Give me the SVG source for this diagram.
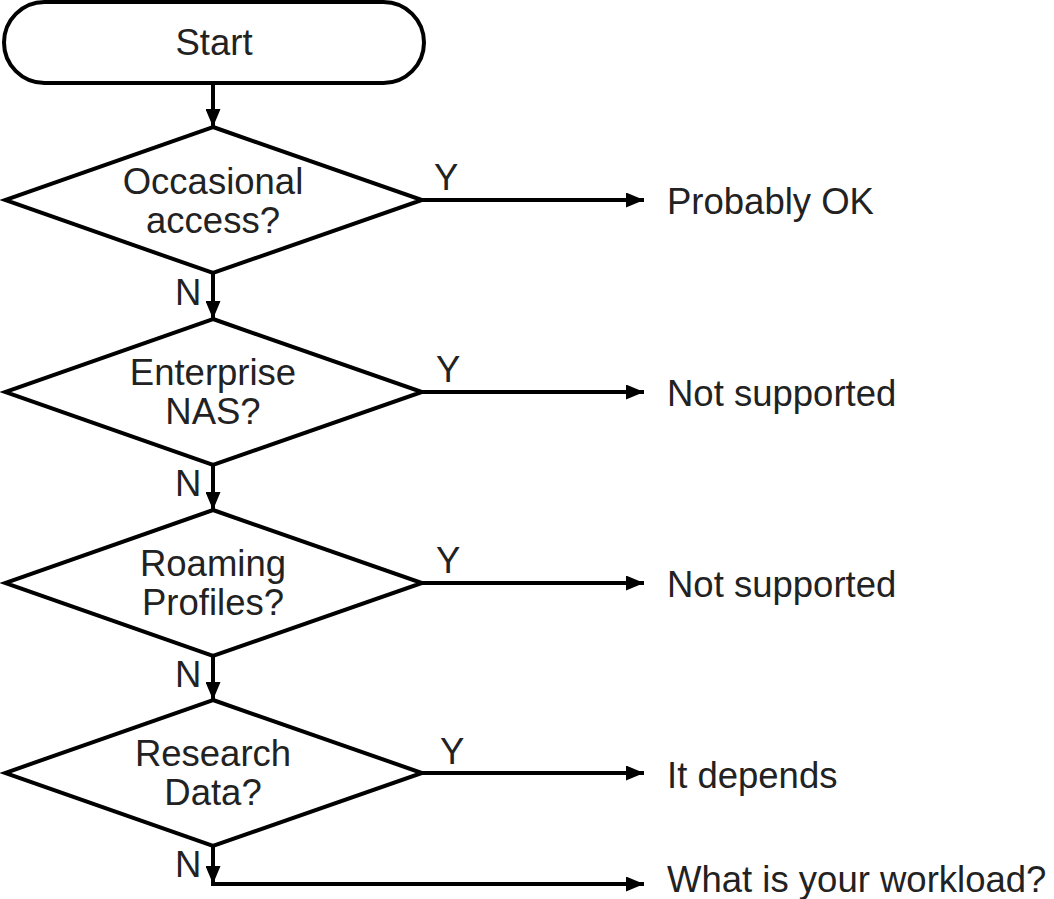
<svg xmlns="http://www.w3.org/2000/svg" width="1054" height="899" viewBox="0 0 1054 899">
<style>
.shape{fill:#fff;stroke:#000;stroke-width:4;stroke-linejoin:miter}
.t{font-family:"Liberation Sans","Noto Sans",Arial,sans-serif;font-size:36.5px;fill:#222}
.c{text-anchor:middle}
.edge{fill:none;stroke:#000;stroke-width:4}
</style>
<defs>
<marker id="ah" markerUnits="userSpaceOnUse" markerWidth="18" markerHeight="15" refX="18" refY="7.5" orient="auto">
<path d="M0,0 L18,7.5 L0,15 Z" fill="#000"/>
</marker>
</defs>
<rect width="1054" height="899" fill="#fff"/>
<g id="start">
<rect class="shape" x="4" y="2" width="420" height="81" rx="40.5" ry="40.5"/>
<text class="t c" x="214" y="55">Start</text>
</g>
<g id="d1">
<polygon class="shape" points="213,127 422,200 213,273 5,200"/>
<text class="t c" x="213" y="194">Occasional</text>
<text class="t c" x="213" y="233">access?</text>
</g>
<g id="d2">
<polygon class="shape" points="213,319 422,392 213,465 5,392"/>
<text class="t c" x="213" y="385">Enterprise</text>
<text class="t c" x="213" y="424">NAS?</text>
</g>
<g id="d3">
<polygon class="shape" points="213,510 422,583 213,656 5,583"/>
<text class="t c" x="213" y="576">Roaming</text>
<text class="t c" x="213" y="615">Profiles?</text>
</g>
<g id="d4">
<polygon class="shape" points="213,700 422,773 213,846 5,773"/>
<text class="t c" x="213" y="766">Research</text>
<text class="t c" x="213" y="805">Data?</text>
</g>
<g id="r1"><text class="t" x="667" y="214">Probably OK</text></g>
<g id="r2"><text class="t" x="667" y="406">Not supported</text></g>
<g id="r3"><text class="t" x="667" y="597">Not supported</text></g>
<g id="r4"><text class="t" x="667" y="788">It depends</text></g>
<g id="r5"><text class="t" x="667" y="892">What is your workload?</text></g>
<g id="connectors">
<path class="edge" d="M213,83 V127" marker-end="url(#ah)"/>
<path class="edge" d="M213,273 V319" marker-end="url(#ah)"/>
<path class="edge" d="M213,465 V510" marker-end="url(#ah)"/>
<path class="edge" d="M213,656 V700" marker-end="url(#ah)"/>
<path class="edge" d="M213,846 V884" marker-end="url(#ah)"/>
<path class="edge" d="M422,200 H644" marker-end="url(#ah)"/>
<path class="edge" d="M422,392 H644" marker-end="url(#ah)"/>
<path class="edge" d="M422,583 H644" marker-end="url(#ah)"/>
<path class="edge" d="M422,773 H644" marker-end="url(#ah)"/>
<path class="edge" d="M211,884 H644" marker-end="url(#ah)"/>
<text class="t" x="434" y="190">Y</text>
<text class="t" x="436" y="382">Y</text>
<text class="t" x="436" y="573">Y</text>
<text class="t" x="440" y="764">Y</text>
<text class="t" x="175" y="305">N</text>
<text class="t" x="175" y="496">N</text>
<text class="t" x="175" y="687">N</text>
<text class="t" x="175" y="877">N</text>
</g>
</svg>
